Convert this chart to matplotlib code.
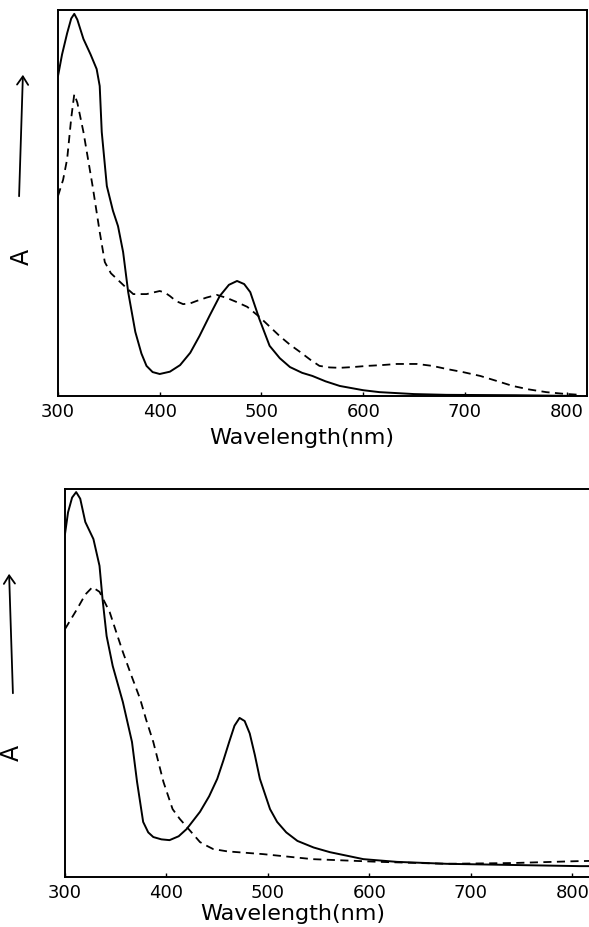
import matplotlib
matplotlib.use("Agg")
import matplotlib.pyplot as plt

# wavelengths (nm) and absorbance (arbitrary units, 0..1)
top_solid_nm = [300, 304, 309, 313, 316, 319, 325, 332, 338, 341, 343, 348, 354, 359, 364,
                369, 376, 382, 387, 393, 400, 410, 420, 430, 439, 449, 459, 468, 476, 483,
                489, 498, 508, 518, 528, 540, 550, 563, 577, 600, 616, 650, 682, 750, 813]
top_solid_a = [0.829, 0.885, 0.940, 0.978, 0.990, 0.975, 0.925, 0.885, 0.847, 0.803, 0.684,
               0.544, 0.480, 0.440, 0.373, 0.269, 0.166, 0.110, 0.078, 0.062, 0.057, 0.063,
               0.080, 0.112, 0.155, 0.208, 0.259, 0.288, 0.298, 0.290, 0.269, 0.199, 0.130,
               0.098, 0.075, 0.060, 0.052, 0.038, 0.026, 0.015, 0.010, 0.005, 0.003, 0.002, 0.0]

top_dash_nm = [300, 305, 309, 313, 316, 319, 325, 334, 341, 346, 352, 358, 366, 374, 387,
               400, 405, 410, 416, 423, 430, 436, 446, 456, 466, 476, 486, 498, 508, 518,
               528, 538, 548, 557, 567, 577, 590, 604, 618, 633, 653, 668, 682, 698, 715,
               730, 747, 763, 780, 796, 813]
top_dash_a = [0.518, 0.560, 0.614, 0.720, 0.782, 0.760, 0.684, 0.544, 0.425, 0.347, 0.318,
              0.303, 0.283, 0.264, 0.264, 0.272, 0.268, 0.259, 0.246, 0.238, 0.240, 0.246,
              0.255, 0.262, 0.254, 0.243, 0.231, 0.205, 0.180, 0.155, 0.133, 0.114, 0.094,
              0.078, 0.074, 0.073, 0.075, 0.078, 0.080, 0.083, 0.083, 0.078, 0.070, 0.062,
              0.052, 0.040, 0.026, 0.017, 0.010, 0.006, 0.003]

bot_solid_nm = [300, 303, 307, 311, 315, 320, 328, 334, 337, 341, 347, 357, 366, 371, 377,
                382, 387, 395, 403, 412, 420, 433, 442, 450, 456, 462, 467, 472, 477, 482,
                487, 492, 502, 509, 518, 529, 545, 561, 594, 627, 676, 741, 807, 830]
bot_solid_a = [0.884, 0.940, 0.978, 0.992, 0.975, 0.915, 0.871, 0.802, 0.716, 0.621, 0.544,
               0.451, 0.348, 0.245, 0.142, 0.115, 0.103, 0.097, 0.095, 0.105, 0.124, 0.168,
               0.208, 0.253, 0.300, 0.350, 0.390, 0.410, 0.402, 0.370, 0.315, 0.253, 0.175,
               0.142, 0.115, 0.093, 0.076, 0.064, 0.046, 0.039, 0.034, 0.031, 0.028, 0.028]

bot_dash_nm = [300, 306, 312, 320, 327, 334, 344, 350, 357, 365, 374, 380, 387, 397, 406,
               413, 420, 427, 433, 440, 446, 460, 495, 544, 610, 676, 741, 807, 830]
bot_dash_a = [0.639, 0.665, 0.691, 0.728, 0.747, 0.735, 0.683, 0.635, 0.580, 0.522, 0.459,
              0.405, 0.348, 0.245, 0.175, 0.150, 0.129, 0.108, 0.090, 0.080, 0.072, 0.066,
              0.059, 0.046, 0.039, 0.034, 0.036, 0.041, 0.042]

ticks = [300, 400, 500, 600, 700, 800]
W, H = 589, 928


def px(x0, y0, x1, y1):
    # axes rect from pixel box (top-left origin)
    return [x0 / W, 1 - y1 / H, (x1 - x0) / W, (y1 - y0) / H]


fig = plt.figure(figsize=(W / 100, H / 100), dpi=100)
plt.rcParams['font.family'] = ['DejaVu Sans']

panels = [
    (px(58, 11, 587, 397), (300, 820), top_solid_nm, top_solid_a, top_dash_nm, top_dash_a, 0.46, -0.08),
    (px(65, 490, 608, 878), (300, 835), bot_solid_nm, bot_solid_a, bot_dash_nm, bot_dash_a, 0.42, -0.068),
]

for rect, xlim, snm, sa, dnm, da, labx, laby in panels:
    ax = fig.add_axes(rect)
    ax.plot(snm, sa, color='black', lw=1.4, solid_joinstyle='round')
    ax.plot(dnm, da, color='black', lw=1.3, linestyle=(0, (4.5, 3)))
    ax.set_xlim(*xlim)
    ax.set_ylim(0, 1.0)
    ax.set_xticks(ticks)
    ax.set_xticklabels([str(t) for t in ticks], fontsize=13)
    ax.set_yticks([])
    ax.tick_params(axis='x', direction='in', length=3, width=1, pad=4)
    for s in ax.spines.values():
        s.set_linewidth(1.4)
    ax.set_xlabel('Wavelength(nm)', fontsize=16)
    ax.xaxis.set_label_coords(labx, laby)

# "A" labels with upward arrows on the left
for a_x, a_y, arr in [
    (22, 257, ((19, 200), (23, 73))),
    (12, 753, ((13, 697), (9, 572))),
]:
    fig.text(a_x / W, 1 - a_y / H, 'A', rotation=90, fontsize=17,
             ha='center', va='center')
    (x0, y0), (x1, y1) = arr
    fig.add_artist(matplotlib.patches.FancyArrowPatch(
        (x0 / W, 1 - y0 / H), (x1 / W, 1 - y1 / H),
        transform=fig.transFigure, arrowstyle='->,head_length=6,head_width=4',
        color='black', lw=1.3))

fig.savefig('out.png', dpi=100)
